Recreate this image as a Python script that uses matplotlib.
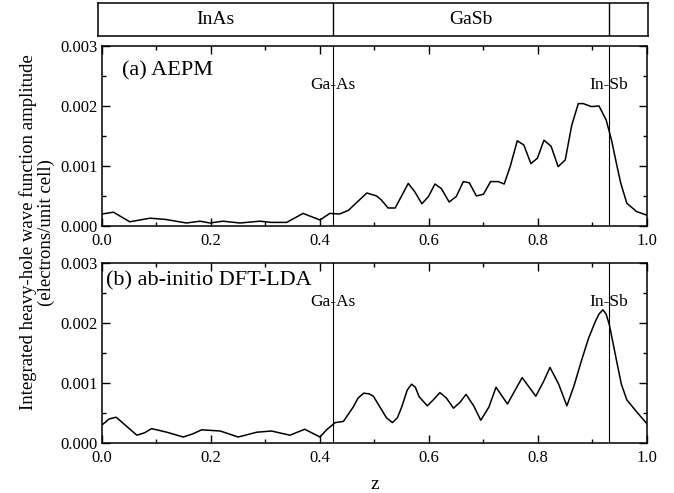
import matplotlib
matplotlib.use("Agg")
import matplotlib.pyplot as plt
from matplotlib.ticker import MultipleLocator, FormatStrFormatter

plt.rcParams['font.family'] = ['Liberation Serif', 'DejaVu Serif']

# (a) AEPM
z_a = [0.0, 0.021, 0.051, 0.088, 0.116, 0.155, 0.18, 0.198, 0.222, 0.253,
       0.29, 0.31, 0.339, 0.369, 0.4, 0.418, 0.436, 0.452, 0.486, 0.504,
       0.513, 0.525, 0.538, 0.562, 0.574, 0.587, 0.599, 0.611, 0.623, 0.637,
       0.65, 0.663, 0.674, 0.687, 0.7, 0.713, 0.727, 0.738, 0.749, 0.762,
       0.774, 0.787, 0.799, 0.811, 0.824, 0.837, 0.85, 0.862, 0.874, 0.883,
       0.898, 0.912, 0.925, 0.935, 0.944, 0.952, 0.963, 0.981, 1.0]
amp_a = [0.00020, 0.00023, 0.00007, 0.00013, 0.00011, 0.00005, 0.00008, 0.00005,
         0.00008, 0.00005, 0.00008, 0.00006, 0.00006, 0.00021, 0.00010, 0.00021,
         0.00020, 0.00026, 0.00055, 0.00050, 0.00043, 0.00030, 0.00030, 0.00071,
         0.00057, 0.00037, 0.00049, 0.00070, 0.00062, 0.00040, 0.00049, 0.00074,
         0.00072, 0.00050, 0.00053, 0.00074, 0.00074, 0.00070, 0.00099, 0.00142,
         0.00135, 0.00104, 0.00113, 0.00143, 0.00133, 0.00099, 0.00110, 0.00168,
         0.00204, 0.00204, 0.00199, 0.00200, 0.00177, 0.00143, 0.00104, 0.00071,
         0.00038, 0.00024, 0.00018]

# (b) ab-initio DFT-LDA
z_b = [0.0, 0.013, 0.026, 0.045, 0.064, 0.078, 0.091, 0.119, 0.149, 0.166,
       0.183, 0.217, 0.25, 0.284, 0.311, 0.345, 0.372, 0.4, 0.412, 0.428,
       0.443, 0.461, 0.47, 0.48, 0.49, 0.498, 0.51, 0.522, 0.533, 0.542,
       0.55, 0.56, 0.568, 0.575, 0.582, 0.597, 0.608, 0.62, 0.632, 0.645,
       0.657, 0.668, 0.682, 0.695, 0.71, 0.723, 0.744, 0.758, 0.771, 0.796,
       0.81, 0.822, 0.838, 0.853, 0.866, 0.88, 0.893, 0.905, 0.912, 0.919,
       0.925, 0.931, 0.944, 0.953, 0.963, 0.981, 1.0]
amp_b = [0.00030, 0.00040, 0.00043, 0.00028, 0.00013, 0.00017, 0.00024, 0.00018,
         0.00010, 0.00015, 0.00022, 0.00020, 0.00010, 0.00018, 0.00020, 0.00013,
         0.00023, 0.00010, 0.00022, 0.00034, 0.00036, 0.00060, 0.00075, 0.00083,
         0.00082, 0.00078, 0.00060, 0.00042, 0.00034, 0.00042, 0.00060, 0.00088,
         0.00098, 0.00093, 0.00077, 0.00062, 0.00072, 0.00084, 0.00075, 0.00058,
         0.00068, 0.00081, 0.00062, 0.00038, 0.00060, 0.00093, 0.00065, 0.00088,
         0.00109, 0.00078, 0.00102, 0.00126, 0.00098, 0.00062, 0.00095, 0.00138,
         0.00175, 0.00202, 0.00215, 0.00222, 0.00215, 0.00197, 0.00138, 0.00098,
         0.00072, 0.00052, 0.00032]

interfaces = [0.424, 0.93]
interface_labels = ['Ga-As', 'In-Sb']
layers = ['InAs', 'GaSb', '']
layer_edges = [-0.0073, 0.424, 0.93, 1.0018]

fig = plt.figure(figsize=(6.74, 4.93), dpi=100)
ax1 = fig.add_axes([0.1513, 0.5416, 0.8086, 0.3651])
ax2 = fig.add_axes([0.1513, 0.1014, 0.8086, 0.3651])

panels = [(ax1, z_a, amp_a, '(a) AEPM', 0.036, 0.00258),
          (ax2, z_b, amp_b, '(b) ab-initio DFT-LDA', 0.007, 0.0027)]

for ax, z, amp, title, tx, ty in panels:
    ax.plot(z, amp, color='black', lw=1.1)
    for xi, lab in zip(interfaces, interface_labels):
        ax.axvline(xi, color='black', lw=0.8)
        ax.text(xi, 0.00235, lab, ha='center', va='center', fontsize=12.5)
    ax.text(tx, ty, title, ha='left', va='center', fontsize=16)
    ax.set_xlim(0, 1)
    ax.set_ylim(0, 0.003)
    ax.xaxis.set_major_locator(MultipleLocator(0.2))
    ax.xaxis.set_minor_locator(MultipleLocator(0.1))
    ax.yaxis.set_major_locator(MultipleLocator(0.001))
    ax.yaxis.set_minor_locator(MultipleLocator(0.0005))
    ax.xaxis.set_major_formatter(FormatStrFormatter('%.1f'))
    ax.yaxis.set_major_formatter(FormatStrFormatter('%.3f'))
    ax.tick_params(which='both', direction='in', top=True, right=True,
                   labelsize=12, width=1.0)
    ax.tick_params(which='major', length=6)
    ax.tick_params(axis='x', which='major', pad=5)
    ax.tick_params(axis='y', which='major', pad=3)
    ax.tick_params(which='minor', length=3.2)
    for s in ax.spines.values():
        s.set_linewidth(1.1)

ax2.set_xlabel('z', fontsize=14, labelpad=7)

# layer box on top
axb = fig.add_axes([0.1454, 0.927, 0.816, 0.0669])
axb.set_xlim(layer_edges[0], layer_edges[-1])
axb.set_ylim(0, 1)
axb.set_xticks([])
axb.set_yticks([])
for s in axb.spines.values():
    s.set_linewidth(1.1)
for xi in interfaces:
    axb.axvline(xi, color='black', lw=1.0)
for i, lab in enumerate(layers):
    axb.text((layer_edges[i] + layer_edges[i + 1]) / 2, 0.5, lab,
             ha='center', va='center', fontsize=14)

fig.text(28 / 674, 0.529, 'Integrated heavy-hole wave function amplitude',
         rotation=90, ha='center', va='center', fontsize=13.5)
fig.text(46 / 674, 0.529, '(electrons/unit cell)',
         rotation=90, ha='center', va='center', fontsize=13.5)

fig.savefig('out.png', dpi=100)
